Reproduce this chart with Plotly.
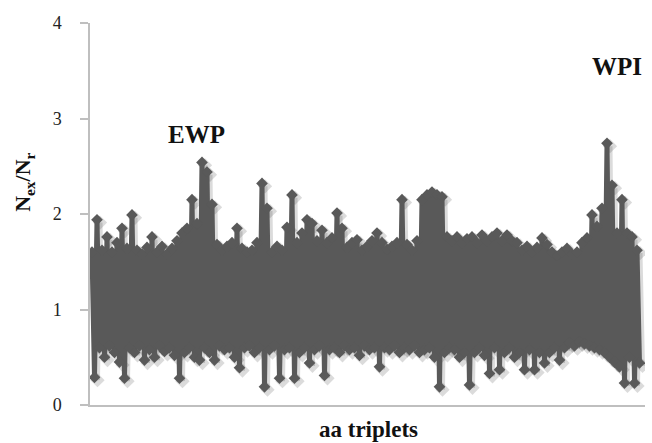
import plotly.graph_objects as go

# Upper and lower envelope of the dense series, read every ~5 px along the x axis
upper = [1.60, 1.94, 1.62, 1.76, 1.60, 1.70, 1.85, 1.64, 1.99, 1.62,
         1.58, 1.65, 1.76, 1.60, 1.66, 1.58, 1.64, 1.72, 1.80, 1.85,
         2.15, 1.90, 2.54, 2.44, 2.10, 1.68, 1.62, 1.66, 1.70, 1.85,
         1.64, 1.60, 1.62, 1.70, 2.32, 2.06, 1.60, 1.66, 1.62, 1.86,
         2.20, 1.70, 1.80, 1.94, 1.90, 1.72, 1.83, 1.70, 1.75, 2.01,
         1.85, 1.65, 1.70, 1.73, 1.62, 1.66, 1.72, 1.80, 1.70, 1.63,
         1.66, 1.70, 2.15, 1.68, 1.62, 1.72, 2.15, 2.20, 2.23, 2.20,
         2.18, 1.76, 1.72, 1.76, 1.70, 1.74, 1.76, 1.70, 1.78, 1.72,
         1.76, 1.80, 1.72, 1.78, 1.72, 1.70, 1.62, 1.66, 1.60, 1.65,
         1.75, 1.68, 1.60, 1.56, 1.60, 1.64, 1.58, 1.60, 1.70, 1.75,
         1.99, 1.87, 2.06, 2.74, 2.30, 1.80, 2.15, 1.80, 1.76, 1.62]
lower = [0.29, 0.60, 0.50, 0.62, 0.55, 0.45, 0.28, 0.60, 0.55, 0.62,
         0.47, 0.58, 0.50, 0.62, 0.56, 0.60, 0.52, 0.28, 0.55, 0.60,
         0.50, 0.47, 0.60, 0.55, 0.47, 0.62, 0.58, 0.60, 0.50, 0.39,
         0.60, 0.62, 0.55, 0.60, 0.19, 0.58, 0.62, 0.28, 0.58, 0.60,
         0.28, 0.55, 0.60, 0.44, 0.58, 0.62, 0.31, 0.58, 0.60, 0.55,
         0.62, 0.58, 0.60, 0.52, 0.62, 0.58, 0.60, 0.40, 0.60, 0.58,
         0.62, 0.55, 0.60, 0.58, 0.62, 0.55, 0.58, 0.60, 0.50, 0.19,
         0.55, 0.60, 0.58, 0.50, 0.55, 0.21, 0.55, 0.60, 0.52, 0.33,
         0.60, 0.37, 0.55, 0.60, 0.50, 0.55, 0.37, 0.58, 0.37, 0.55,
         0.44, 0.55, 0.60, 0.47, 0.60, 0.65, 0.62, 0.66, 0.64, 0.62,
         0.60, 0.58, 0.55, 0.50, 0.45, 0.40, 0.23, 0.50, 0.23, 0.44]

y_ticks = [0, 1, 2, 3, 4]
labels = {"x": "aa triplets", "y": "N<sub>ex</sub>/N<sub>r</sub>",
          "peak1": "EWP", "peak2": "WPI"}

values = []
for u, l in zip(upper, lower):
    values.extend([u, l])
idx = list(range(len(values)))

color = "#595959"
serif = "Liberation Serif, Times New Roman, serif"

fig = go.Figure()
# soft drop shadow
fig.add_trace(go.Scatter(
    x=[i + 1.2 for i in idx], y=[v - 0.03 for v in values], mode="lines+markers",
    line=dict(color="rgba(0,0,0,0.14)", width=5, simplify=False),
    marker=dict(symbol="diamond", size=11, color="rgba(0,0,0,0.14)"),
    hoverinfo="skip", showlegend=False))
fig.add_trace(go.Scatter(
    x=idx, y=values, mode="lines+markers",
    line=dict(color=color, width=5, simplify=False),
    marker=dict(symbol="diamond", size=9, color=color),
    showlegend=False))

px_per_idx = 2.5
left = -0.8
fig.update_layout(
    width=652, height=443,
    margin=dict(l=90, r=7, t=23, b=38, autoexpand=False),
    paper_bgcolor="white", plot_bgcolor="white",
    xaxis=dict(range=[left, left + 555 / px_per_idx], showgrid=False, zeroline=False,
               showticklabels=False, ticks="", showline=True,
               linecolor="#bfbfbf", linewidth=1.5),
    yaxis=dict(range=[0, 4], tickvals=y_ticks, showgrid=False, zeroline=False,
               showline=True, linecolor="#bfbfbf", linewidth=1.5,
               ticks="outside", ticklen=8, tickcolor="#bfbfbf", tickwidth=1.5,
               ticklabelstandoff=15,
               tickfont=dict(family=serif, size=18, color="#222")),
    annotations=[
        dict(text="<b>" + labels["x"] + "</b>", xref="paper", yref="paper",
             x=0.501, y=-0.064, showarrow=False, xanchor="center", yanchor="middle",
             font=dict(family=serif, size=23, color="#111")),
        dict(text="<b>" + labels["y"] + "</b>", xref="paper", yref="paper",
             x=-0.119, y=0.584, showarrow=False, textangle=-90,
             xanchor="center", yanchor="middle",
             font=dict(family=serif, size=22, color="#111")),
        dict(text="<b>" + labels["peak1"] + "</b>", xref="paper", yref="paper",
             x=0.191, y=0.709, showarrow=False, xanchor="center", yanchor="middle",
             font=dict(family=serif, size=25, color="#111")),
        dict(text="<b>" + labels["peak2"] + "</b>", xref="paper", yref="paper",
             x=0.95, y=0.885, showarrow=False, xanchor="center", yanchor="middle",
             font=dict(family=serif, size=25, color="#111")),
    ],
)

fig.write_html("out.html", config={"displayModeBar": False})
with open("out.html", encoding="utf-8") as f:
    html = f.read()
html = html.replace("<body>", '<body style="margin:0;padding:0;">', 1)
with open("out.html", "w", encoding="utf-8") as f:
    f.write(html)
